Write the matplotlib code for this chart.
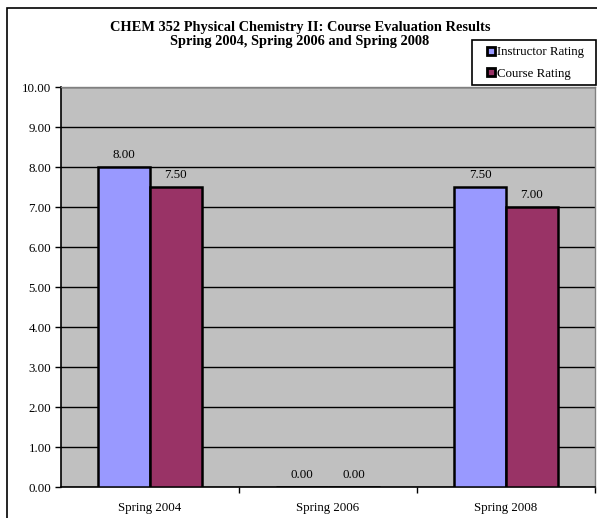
import matplotlib
matplotlib.use("Agg")
import matplotlib.pyplot as plt
from matplotlib.patches import Rectangle

plt.rcParams['font.family'] = ['Liberation Serif', 'DejaVu Serif']

semesters = ["Spring 2004", "Spring 2006", "Spring 2008"]
instructor_rating = [8.00, 0.00, 7.50]
course_rating = [7.50, 0.00, 7.00]
y_ticks = [0, 1, 2, 3, 4, 5, 6, 7, 8, 9, 10]

FS = 9.3
W, H = 597, 518
fig = plt.figure(figsize=(W / 100, H / 100), dpi=100)


def px_box(x0, y0, x1, y1):
    """Figure-fraction rectangle from pixel coordinates (origin top-left)."""
    return (x0 / W, 1 - y1 / H, (x1 - x0) / W, (y1 - y0) / H)


# outer chart frame
fig.patches.append(Rectangle((7 / W, -0.1), 1.2, (H - 8) / H + 0.1,
                             transform=fig.transFigure, fill=False,
                             edgecolor='black', lw=1.2))

ax = fig.add_axes(px_box(61, 87, 595, 487))
ax.set_facecolor('#C0C0C0')

w = 0.29
x = list(range(len(semesters)))
b1 = ax.bar([i - w / 2 for i in x], instructor_rating, width=w,
            color='#9999FF', edgecolor='black', linewidth=1.8,
            label='Instructor Rating', zorder=3)
b2 = ax.bar([i + w / 2 for i in x], course_rating, width=w,
            color='#993366', edgecolor='black', linewidth=1.8,
            label='Course Rating', zorder=3)

for bars, vals in ((b1, instructor_rating), (b2, course_rating)):
    for bar, v in zip(bars, vals):
        ax.annotate(f"{v:.2f}", (bar.get_x() + bar.get_width() / 2, v),
                    xytext=(0, 4), textcoords='offset points',
                    ha='center', va='bottom', fontsize=FS)

ax.set_xlim(-0.5, len(semesters) - 0.5)
ax.set_ylim(0, 10)
ax.set_yticks(y_ticks)
ax.set_yticklabels([f"{t:.2f}" for t in y_ticks], fontsize=FS)
ax.yaxis.grid(True, color='black', linewidth=1.0, zorder=1)
ax.set_axisbelow(True)

ax.set_xticks([i + 0.5 for i in x])
ax.set_xticklabels([])
ax.set_xticks(x, minor=True)
ax.set_xticklabels(semesters, minor=True, fontsize=FS)
ax.tick_params(axis='x', which='minor', length=0, pad=11)
ax.tick_params(axis='x', which='major', length=4, width=1, direction='out')
ax.tick_params(axis='y', length=4, width=1, direction='out', pad=3)

for side in ('top', 'right'):
    ax.spines[side].set_color('#808080')
    ax.spines[side].set_linewidth(1.0)
for side in ('left', 'bottom'):
    ax.spines[side].set_color('black')
    ax.spines[side].set_linewidth(1.2)

fig.text(300 / W, 1 - 34.5 / H,
         "CHEM 352 Physical Chemistry II: Course Evaluation Results\n"
         "Spring 2004, Spring 2006 and Spring 2008",
         ha='center', va='center', fontsize=10.4, fontweight='bold',
         linespacing=1.1)

# legend box
fig.patches.append(Rectangle(px_box(472, 40, 596, 85)[:2],
                             *px_box(472, 40, 596, 85)[2:],
                             transform=fig.transFigure, facecolor='white',
                             edgecolor='black', lw=1.2, zorder=5))
leg = fig.legend(handles=[b1, b2], loc='center left',
                 bbox_to_anchor=(487 / W, 1 - 63 / H), fontsize=FS,
                 frameon=False, handlelength=0.6, handleheight=0.6,
                 handletextpad=0.2, borderpad=0, labelspacing=0.7,
                 borderaxespad=0)
leg.set_zorder(6)
for h in leg.legend_handles:
    h.set_linewidth(2.0)
    h.set_edgecolor('black')

fig.savefig("out.png", dpi=100)
